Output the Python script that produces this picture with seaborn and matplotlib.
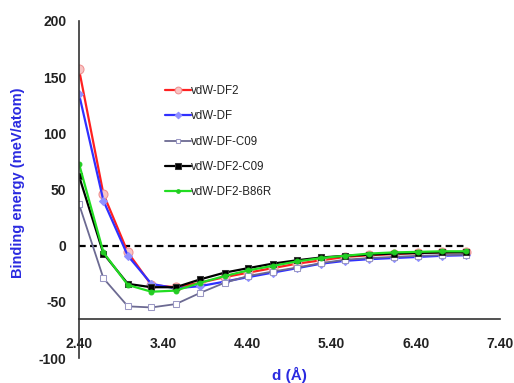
import matplotlib
matplotlib.use("Agg")
import matplotlib.pyplot as plt
import seaborn as sns
import pandas as pd

# ---- data ----
d = [2.40, 2.69, 2.98, 3.26, 3.55, 3.84, 4.13, 4.41, 4.70, 4.99, 5.28, 5.56, 5.85, 6.14, 6.43, 6.71, 7.00]
df2 = [157, 46, -6, -35, -37, -33, -28, -24, -20, -16, -13, -10, -8.5, -7.5, -6.5, -6, -5.5]
df1 = [135, 40, -9, -34, -38, -36, -32, -28, -24, -20, -16, -13.5, -12, -11, -10, -9, -8.5]
dfc09 = [37, -29, -54, -55, -52, -42, -33, -27, -23, -19.5, -15.5, -12.5, -11, -10, -9, -8.5, -8]
df2c09 = [62, -7, -34, -37, -37, -30, -24, -20, -16, -13, -10.5, -9, -8, -7, -6.5, -6, -6]
df2b86r = [73, -6, -35, -41, -40, -33, -27, -22, -18, -14, -11, -9, -7, -6, -5.5, -5, -5]

labels = ["vdW-DF2", "vdW-DF", "vdW-DF-C09", "vdW-DF2-C09", "vdW-DF2-B86R"]
series = [df2, df1, dfc09, df2c09, df2b86r]
yticks = [-100, -50, 0, 50, 100, 150, 200]
xticks = [2.40, 3.40, 4.40, 5.40, 6.40, 7.40]
xticklabels = ["2.40", "3.40", "4.40", "5.40", "6.40", "7.40"]

styles = [
    dict(color="#ff2020", marker="o", markersize=6.5, markerfacecolor="#f8c4c4",
         markeredgecolor="#f09090", linewidth=1.6),
    dict(color="#3030ff", marker="D", markersize=4.5, markerfacecolor="#9090ff",
         markeredgecolor="#9090ff", linewidth=1.6),
    dict(color="#6c6a92", marker="s", markersize=4.5, markerfacecolor="white",
         markeredgecolor="#9a98c4", linewidth=1.3),
    dict(color="black", marker="s", markersize=5, markerfacecolor="black",
         markeredgecolor="#333333", linewidth=1.6),
    dict(color="#22dd22", marker="o", markersize=3.5, markerfacecolor="#22cc22",
         markeredgecolor="#22cc22", linewidth=1.6),
]

sns.set_style("white")
plt.rcParams["font.family"] = ["Liberation Sans", "DejaVu Sans"]
plt.rcParams["axes.unicode_minus"] = False

fig = plt.figure(figsize=(5.14, 3.83), dpi=100)
ax = fig.add_axes([79 / 514, 1 - 358 / 383, 421 / 514, 337 / 383])

for lab, vals, st in zip(labels, series, styles):
    frame = pd.DataFrame({"d": d, "E": vals})
    sns.lineplot(data=frame, x="d", y="E", ax=ax, label=lab, **st)

ax.hlines(0, d[0], d[-1], colors="black", linestyles=(0, (3, 2)), linewidth=1.6, zorder=1)

ax.set_xlim(2.40, 7.40)
ax.set_ylim(-100, 200)
ax.set_xticks(xticks)
ax.set_xticklabels(xticklabels)
ax.set_yticks(yticks)

for s in ["top", "right"]:
    ax.spines[s].set_visible(False)
ax.spines["bottom"].set_position(("data", -65))
for s in ["left", "bottom"]:
    ax.spines[s].set_color("#333333")
    ax.spines[s].set_linewidth(1.2)

ax.tick_params(axis="x", direction="in", length=4, width=1.2, pad=13, colors="#333333",
               labelsize=10, labelcolor="#222222")
ax.tick_params(axis="y", direction="out", length=4, width=1.2, pad=5, colors="#333333",
               labelsize=10, labelcolor="#222222")
for t in ax.get_xticklabels() + ax.get_yticklabels():
    t.set_fontweight("bold")

ax.set_xlabel("d (Å)", color="#2a2ae0", fontsize=11, fontweight="bold")
ax.xaxis.set_label_coords(0.5, -0.025)
ax.set_ylabel("Binding energy (meV/atom)", color="#2a2ae0", fontsize=10.5, fontweight="bold")
ax.yaxis.set_label_coords(-0.128, 0.52)

ax.legend(loc="upper left", bbox_to_anchor=(0.205, 0.81), frameon=False, fontsize=8.3,
          labelspacing=1.15, handlelength=2.2, handletextpad=0.05, borderpad=0,
          borderaxespad=0, labelcolor="#222222", markerscale=0.75)

fig.savefig("out.png", dpi=100, facecolor="white")
